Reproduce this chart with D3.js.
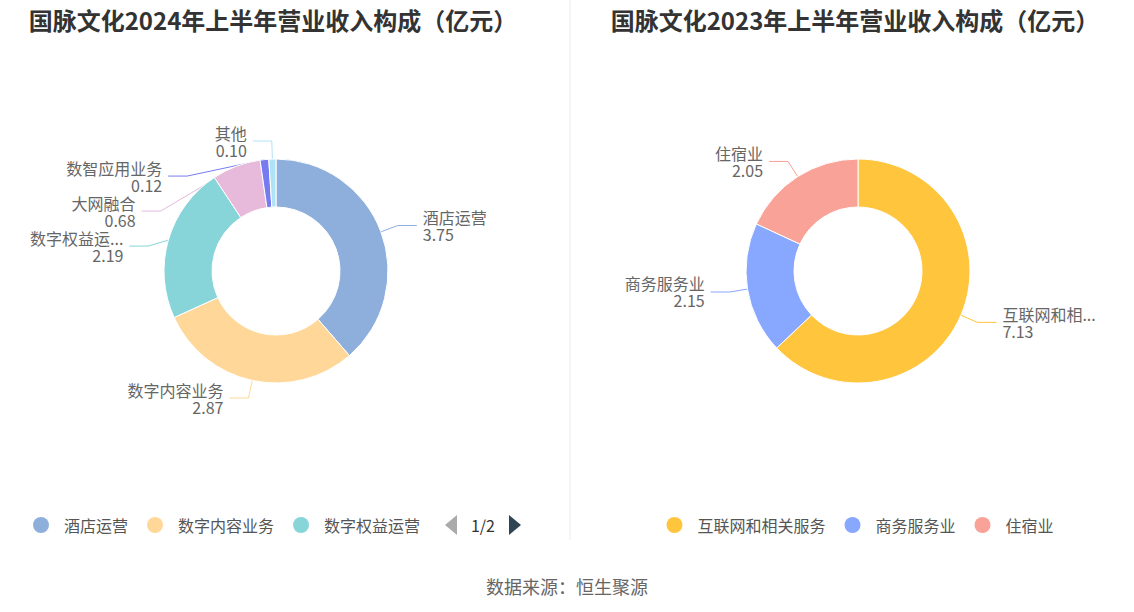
<!DOCTYPE html>
<html><head><meta charset="utf-8">
<script src="https://cdn.jsdelivr.net/npm/d3@7/dist/d3.min.js"></script>
<style>
html,body{margin:0;padding:0;background:#fff;}
text{font-family:"Microsoft YaHei","Noto Sans CJK SC","Noto Sans",sans-serif;}
</style></head>
<body>
<svg id="chart" width="1134" height="612"></svg>
<script>
// ---- data ----
const title2024 = "国脉文化2024年上半年营业收入构成（亿元）";
const title2023 = "国脉文化2023年上半年营业收入构成（亿元）";
const categories2024 = ["酒店运营", "数字内容业务", "数字权益运营", "大网融合", "数智应用业务", "其他"];
const values2024 = [3.75, 2.87, 2.19, 0.68, 0.12, 0.10];
const colors2024 = ["#8eaedc", "#ffd899", "#88d5d9", "#e7b9da", "#767cf0", "#b0e2f7"];
const categories2023 = ["互联网和相关服务", "商务服务业", "住宿业"];
const values2023 = [7.13, 2.15, 2.05];
const colors2023 = ["#ffc53d", "#88a8ff", "#f9a298"];
const sourceText = "数据来源：恒生聚源";
const pageText = "1/2";

const svg = d3.select("#chart");
const R = 112, r0 = 64, L1 = 18, L2 = 19;

function drawDonut(cx, cy, cats, vals, cols, title) {
  const g = svg.append("g");
  g.append("text").attr("x", cx - 3).attr("y", 19)
    .attr("text-anchor", "middle").attr("dominant-baseline", "central")
    .attr("font-size", 24).attr("font-weight", "bold").attr("fill", "#333")
    .text(title);

  const data = cats.map((c, i) => ({name: c, value: vals[i], color: cols[i]}));
  const pie = d3.pie().value(d => d.value).sort(null);
  const arcs = pie(data);
  const arc = d3.arc().innerRadius(r0).outerRadius(R);

  // label layout
  const r2 = R + L1;
  const labels = arcs.map(a => {
    const m = (a.startAngle + a.endAngle) / 2;
    const s = Math.sin(m), c = Math.cos(m);
    return {
      a, side: s >= 0 ? 1 : -1,
      p1: [cx + R * s, cy - R * c],
      nx: cx + r2 * s, ny: cy - r2 * c
    };
  });
  const h = 35;
  [1, -1].forEach(side => {
    const list = labels.filter(l => l.side === side).sort((p, q) => p.ny - q.ny);
    let prev = -Infinity;
    list.forEach(l => {
      l.y = Math.max(l.ny, prev + h);
      prev = l.y;
      if (Math.abs(l.y - l.ny) > 0.5) {
        const dy = l.y - cy;
        l.x = cx + side * Math.sqrt(Math.max(0, r2 * r2 - dy * dy));
      } else l.x = l.nx;
      l.x3 = l.x + side * L2;
    });
  });

  const lineG = g.append("g");
  const sliceG = g.append("g");
  const textG = g.append("g");

  labels.forEach(l => {
    lineG.append("polyline")
      .attr("points", [l.p1, [l.x, l.y], [l.x3, l.y]].map(p => p.join(",")).join(" "))
      .attr("fill", "none").attr("stroke", l.a.data.color).attr("stroke-width", 1);
  });

  sliceG.selectAll("path").data(arcs).join("path")
    .attr("transform", `translate(${cx},${cy})`)
    .attr("d", arc).attr("fill", d => d.data.color)
    .attr("stroke", "#fff").attr("stroke-width", 1);

  labels.forEach(l => {
    const tx = l.x3 + l.side * 6;
    const anchor = l.side > 0 ? "start" : "end";
    const bound = l.side > 0 ? (cx + 247) - tx : tx - (cx - 247);
    const t = textG.append("text").attr("x", tx).attr("y", l.y - 8.5)
      .attr("text-anchor", anchor).attr("dominant-baseline", "central")
      .attr("font-size", 16).attr("fill", "#666").text(l.a.data.name);
    let name = l.a.data.name;
    if (t.node().getComputedTextLength() > bound) {
      let n = name.length;
      while (n > 1) {
        n--;
        t.text(name.slice(0, n) + "...");
        if (t.node().getComputedTextLength() <= bound + 2) break;
      }
    }
    textG.append("text").attr("x", tx).attr("y", l.y + 8.5)
      .attr("text-anchor", anchor).attr("dominant-baseline", "central")
      .attr("font-size", 16).attr("fill", "#666").text(d3.format(".2f")(l.a.data.value));
  });
  return data;
}

const d24 = drawDonut(276, 271, categories2024, values2024, colors2024, title2024);
const d23 = drawDonut(858, 271, categories2023, values2023, colors2023, title2023);

// divider
svg.append("line").attr("x1", 570).attr("x2", 570).attr("y1", 0).attr("y2", 540)
  .attr("stroke", "#ececec").attr("stroke-width", 1);

// legends
function legendItems(g, data, startX, y, maxX) {
  let x = startX;
  for (const d of data) {
    const t = g.append("text").attr("x", x + 23).attr("y", y)
      .attr("dominant-baseline", "central").attr("font-size", 16).attr("fill", "#555").text(d.name);
    const tw = t.node().getComputedTextLength();
    if (maxX !== undefined && x + 23 + tw > maxX) { t.remove(); break; }
    g.append("circle").attr("cx", x).attr("cy", y).attr("r", 8).attr("fill", d.color);
    x = x + 23 + tw + 27;
  }
  return x - 27 - startX;
}
const legY = 525;
// left scroll legend (page 1 of 2)
const lg = svg.append("g");
legendItems(lg, d24, 41, legY, 430);
svg.append("path").attr("d", `M457,${legY - 10}L457,${legY + 10}L445,${legY}Z`).attr("fill", "#aaa");
svg.append("text").attr("x", 483).attr("y", legY).attr("text-anchor", "middle")
  .attr("dominant-baseline", "central").attr("font-size", 16).attr("fill", "#333").text(pageText);
svg.append("path").attr("d", `M509,${legY - 10}L509,${legY + 10}L521,${legY}Z`).attr("fill", "#2f4554");

// right legend centered
const rg = svg.append("g");
const w = legendItems(rg, d23, 0, legY);
rg.attr("transform", `translate(${860 - (w - 8) / 2},0)`);

// source
svg.append("text").attr("x", 567).attr("y", 586).attr("text-anchor", "middle")
  .attr("dominant-baseline", "central").attr("font-size", 18).attr("fill", "#666").text(sourceText);
</script>
</body></html>
